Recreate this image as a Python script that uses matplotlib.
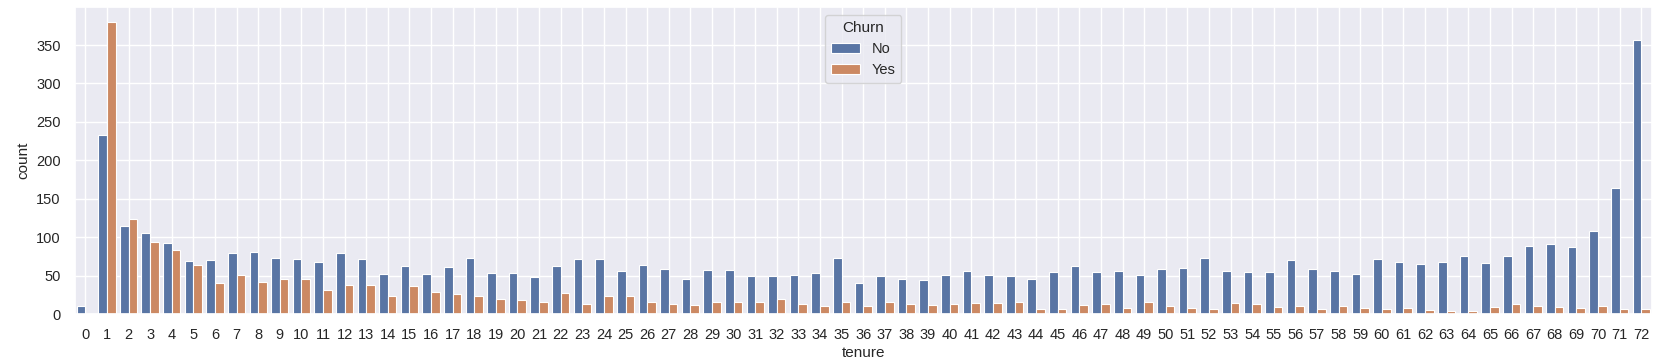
import numpy as np
import matplotlib
matplotlib.use("Agg")
import matplotlib.pyplot as plt
import seaborn as sns

sns.set_theme(style="darkgrid")
plt.rcParams['font.family'] = ['Liberation Sans', 'DejaVu Sans']

tenure = list(range(73))
churn_no = [11, 233, 115, 106, 93, 69, 70, 80, 81, 73,
            71, 68, 79, 71, 52, 62, 52, 61, 73, 54,
            53, 48, 63, 72, 71, 56, 64, 59, 45, 57,
            57, 49, 50, 51, 54, 73, 40, 50, 46, 44,
            51, 56, 51, 50, 45, 55, 62, 55, 56, 51,
            58, 60, 73, 56, 55, 55, 70, 59, 56, 52,
            71, 68, 65, 68, 76, 67, 76, 88, 91, 87,
            108, 164, 356]
churn_yes = [0, 380, 123, 94, 83, 64, 40, 51, 42, 46,
             45, 31, 38, 38, 24, 37, 28, 26, 24, 19,
             18, 15, 27, 13, 23, 23, 15, 13, 12, 15,
             15, 16, 19, 13, 11, 15, 10, 15, 13, 12,
             13, 14, 14, 15, 6, 6, 12, 13, 8, 15,
             10, 8, 7, 14, 13, 9, 10, 6, 11, 8,
             6, 8, 5, 4, 4, 9, 13, 10, 9, 8,
             11, 6, 6]
hue_labels = ["No", "Yes"]
colors = ["#5975a4", "#cc8963"]

fig = plt.figure(figsize=(16.68, 3.63), dpi=100)
ax = fig.add_axes([74.5/1668, 1 - 314/363, (1652-74.5)/1668, (314-7.4)/363])

x = np.arange(len(tenure))
w = 0.4
ax.bar(x - w/2, churn_no, width=w, color=colors[0], edgecolor="white", linewidth=0.8, label=hue_labels[0])
ax.bar(x + w/2, churn_yes, width=w, color=colors[1], edgecolor="white", linewidth=0.8, label=hue_labels[1])

ax.set_xlim(-0.5, len(tenure) - 0.5)
ax.set_ylim(0, 399)
ax.set_xticks(x)
ax.set_xticklabels([str(t) for t in tenure])
ax.set_yticks([0, 50, 100, 150, 200, 250, 300, 350])
ax.tick_params(axis='both', labelsize=10.5, colors='#262626', pad=4)
ax.set_xlabel("tenure", fontsize=11, color='#262626', labelpad=3)
ax.set_ylabel("count", fontsize=11, color='#262626')

leg = ax.legend(title="Churn", loc="upper center", fontsize=10.5, title_fontsize=11)

fig.savefig("out.png", dpi=100)
